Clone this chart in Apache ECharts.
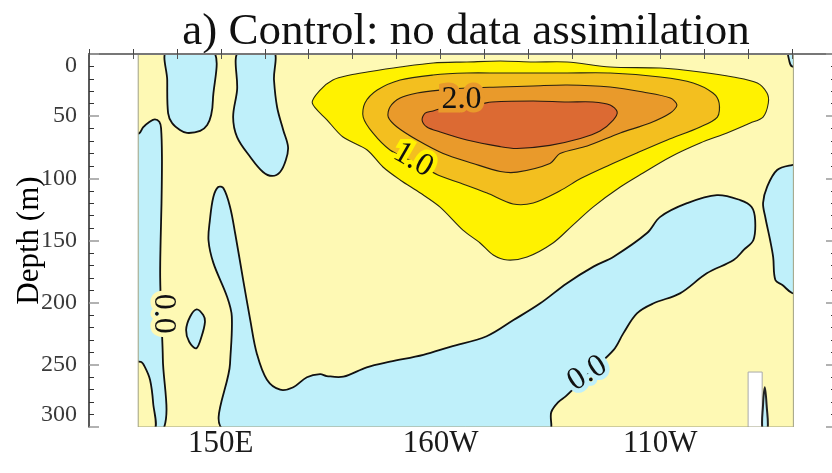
<!DOCTYPE html>
<html><head><meta charset="utf-8">
<script src="https://cdn.jsdelivr.net/npm/echarts@6/dist/echarts.min.js"></script>
<style>html,body{margin:0;padding:0;background:#fff}#c{width:832px;height:473px}</style>
</head><body><div id="c"></div>
<script>
// ---------------- data (longitude in degrees east, depth in m) ----------------
const xTickValues = [150, 200, 250];
const xTickText = ['150E', '160W', '110W'];
const dataDomain = [[131.2,0],[280.3,0],[280.3,300],[131.2,300]];
const landWest = [[118,-5],[131.2,-5],[131.2,305],[118,305]];
const landEast = [[280.3,-5],[292,-5],[292,305],[280.3,305]];
const noDataNotch = [[270,255.8],[273.2,255.8],[273.2,303],[270,303]];

// negative (< 0) regions, bounded by the 0.0 contour
const negA = [[137.8,-3],[137.8,20.9],[138.0,47.5],[138.9,55.5],[140.7,61.1],[142.3,63.5],[145.3,61.9],[146.9,57.1],[147.8,49.1],[148.2,37],[148.2,-3]];
const negB = [[154.1,-3],[153.7,29],[152.8,50.7],[153.7,66.8],[156.7,82.8],[159.6,94.9],[161.7,98.1],[163.5,94.9],[164.8,85.3],[165.3,74.8],[164.2,61.1],[162.8,42.6],[162.1,20.9],[161.9,-3]];
const negC = [[129,64],[131.4,63.8],[132.3,59],[133.8,54.5],[135.0,52.5],[136.0,54.5],[136.4,59.6],[136.6,82.8],[136.5,120],[136.3,150],[136.2,180],[136.5,215],[136.8,244.5],[136.8,303],[129,303]];
const posC = [[129,303],[129,249],[131.8,247.7],[132.7,251.7],[133.9,262.2],[134.6,280.7],[134.8,303]];
const negD = [[144.5,205.4],[146.0,210],[146.4,215.3],[145.6,227.4],[144.4,236.7],[142.8,231.4],[142.1,222],[143,211.3]];
const negE = [[151.3,303],[152.1,249],[152.5,211],[151.4,195],[148.3,168],[147.2,150],[147.5,134],[148.3,115],[149.4,107],[150.6,108],[152.1,123],[153.3,145],[155.1,182],[156.7,214],[158.2,241],[160.5,262],[163.5,270],[166.5,268],[169.6,260],[172.6,257.5],[174.1,259],[177.9,259.5],[183.2,252],[188.5,247.5],[196.1,242],[202.2,235.5],[210.5,227],[216.6,214],[222.7,200.5],[228.7,184.5],[234.8,171],[239.4,163],[247,144],[250,131],[256.1,120],[262.9,113.5],[268.2,117.5],[270.8,123],[271.6,133.5],[271.2,149.6],[269,157.6],[266.7,165.7],[260.6,176.4],[254.5,192.5],[248.5,200.5],[244.7,208.6],[241.6,224.7],[239.4,238],[234,256],[228.6,275],[226.8,280],[225.2,288],[224.5,303]];
const negF = [[282,89.3],[280,89.3],[276.6,93.3],[274.3,107],[273.4,119.8],[273.9,131.1],[275,149.6],[275.7,163.3],[276.2,181.8],[277.8,185.8],[280,192.2],[282,192.2]];
const negG = [[279.2,-3],[279.4,6],[280.0,10],[282,10],[282,-3]];
const negH = [[273.3,303],[273.4,282],[273.8,268],[274.2,282],[274.4,303]];

// positive contours 0.5, 1.0, 1.5, 2.0
const c05 = [[170.8,39.4],[172.6,29],[175.5,20.9],[179.4,16.9],[183.3,14.5],[190.8,10.5],[198.3,7.2],[206,6.4],[213.6,5.6],[221.1,6.4],[228.8,6.4],[238.6,10.5],[250,11.3],[259.1,14.5],[266.6,18.5],[272.1,23.3],[274.3,31.4],[274.6,39.4],[273.4,50.7],[270.5,55.5],[265.2,63.5],[259.1,71.6],[252.3,82.8],[246.1,95.7],[240.9,107],[234.7,123.1],[230,138],[225.6,152],[219.7,163.3],[215.2,165.7],[212,161.7],[209,152],[205.1,141.6],[199.9,123.1],[195.4,111.8],[190.8,101.3],[186.9,90.9],[183.3,77.2],[177.8,66.8],[174.2,53.1]];
const c10 = [[182.4,50.7],[182.8,39.4],[185.6,29],[190.8,20.9],[198.3,16.9],[206,15.3],[213.6,15.3],[221.1,15.3],[228.8,15.3],[238.6,15.3],[250,18.5],[257.5,23.3],[262,31.4],[263.4,39.4],[263,50.7],[259.1,58.7],[251.6,69.2],[244.7,79.6],[238,90],[232,100],[227.2,110],[221.1,119.8],[216.5,120.6],[210.6,111.8],[204.5,103.8],[199.4,97.3],[194,87],[188.5,77.2],[184.6,63.5]];
const c15 = [[188.1,50.7],[188.5,42.6],[190.8,35.4],[194.7,31.4],[199.9,29],[206,27.3],[213.6,26.5],[221.1,25.7],[228.8,24.9],[238.6,26.5],[246.1,30.6],[252.3,35.4],[253.8,41],[252.3,47.5],[247.7,55.5],[240.9,63.5],[233.4,74],[227.2,80],[224.9,88],[217.4,95],[213.6,94.5],[207.4,88],[200.6,80],[194.7,69.2],[190.1,58.7]];
const c20 = [[195.8,53.1],[196.5,47.5],[198.3,45.8],[200.6,43.4],[205,41.5],[209,40.2],[211.7,38.6],[221.1,37.8],[228.8,38.6],[234.7,38.6],[238.6,41],[240.2,46.6],[239.3,53.1],[236.3,62],[231.8,68],[224.9,73.5],[217.4,76],[213.6,74.5],[206,69.2],[199.9,62.7],[196.9,58.7]];

// contour labels
const labelText = ['2.0', '1.0', '0.0', '0.0'];
const labelLon = [204.8, 193.8, 137.0, 233.4];
const labelDepth = [36.6, 85.3, 209.0, 257.0];

// ---------------- styles ----------------
const STYLE = {
  bg:    {fill:'#fef9b4', stroke:null, lw:0, smooth:0},
  neg:   {fill:'#bff0fa', stroke:'#111', lw:1.8, smooth:0.35},
  pos:   {fill:'#fef9b4', stroke:'#111', lw:1.8, smooth:0.35},
  c05:   {fill:'#fff200', stroke:'#2a2a10', lw:1.1, smooth:0.3},
  c10:   {fill:'#f3bf1f', stroke:'#2a2a10', lw:1.1, smooth:0.3},
  c15:   {fill:'#e99a2b', stroke:'#2a2010', lw:1.1, smooth:0.3},
  c20:   {fill:'#dc6a33', stroke:'#2a1a10', lw:1.1, smooth:0.3},
  notch: {fill:'#ffffff', stroke:'#aaaaaa', lw:1, smooth:0},
  dark:  {fill:'#bff0fa', stroke:'#222', lw:2, smooth:0.4},
  land:  {fill:'#ffffff', stroke:null, lw:0, smooth:0},
  edge:  {fill:'none', stroke:'#a0a080', lw:1, smooth:0}
};
const labelRot = [0, -30, -90, 32];
const labelHalo = ['#e99a2b', '#fff200', '#fef9b4', '#bff0fa'];

const layers = [
  ['bg', dataDomain],
  ['neg', negA], ['neg', negB], ['neg', negC], ['pos', posC], ['neg', negD],
  ['neg', negE], ['neg', negF], ['neg', negG],
  ['c05', c05], ['c10', c10], ['c15', c15], ['c20', c20],
  ['notch', noDataNotch], ['dark', negH],
  ['land', landWest], ['land', landEast], ['edge', dataDomain]
];

const serif = '"Liberation Serif", "DejaVu Serif", serif';
const chart = echarts.init(document.getElementById('c'), null, {renderer:'canvas'});

function clipOf(params) {
  const cs = params.coordSys;
  return {type:'rect', shape:{x:cs.x, y:cs.y, width:cs.width, height:cs.height}};
}

const xAxisBase = {
  type:'value', min:120, max:290, interval:10,
  splitLine:{show:false}, z:10
};
const yAxisBase = {
  type:'value', inverse:true, min:0, max:300, interval:50,
  splitLine:{show:false}, z:10,
  minorTick:{show:true, splitNumber:5, length:5, lineStyle:{color:'#333', width:1}},
  minorSplitLine:{show:false}
};

chart.setOption({
  animation:false,
  title:{
    text:'a) Control: no data assimilation', left:461, top:5, textAlign:'center',
    textStyle:{fontFamily:serif, fontSize:45, fontWeight:'normal', color:'#111'}
  },
  grid:{left:89, top:54, width:747, height:373, containLabel:false, outerBoundsMode:'none'},
  xAxis:[
    Object.assign({}, xAxisBase, {
      position:'bottom',
      axisLine:{lineStyle:{color:'#222', width:1.5}},
      axisTick:{inside:true, length:5, lineStyle:{color:'#444'}},
      axisLabel:{
        margin:1, fontFamily:serif, fontSize:31, color:'#1a1a1a',
        formatter:v => { const i = xTickValues.indexOf(v); return i >= 0 ? xTickText[i] : ''; }
      }
    }),
    Object.assign({}, xAxisBase, {
      position:'top',
      axisLine:{lineStyle:{color:'#777', width:2}},
      axisTick:{inside:true, length:5, lineStyle:{color:'#555'}},
      axisLabel:{show:false}
    })
  ],
  yAxis:[
    Object.assign({}, yAxisBase, {
      position:'left',
      name:'Depth (m)', nameLocation:'middle', nameRotate:90, nameGap:44,
      nameMoveOverlap:false,
      nameTextStyle:{fontFamily:serif, fontSize:31, color:'#000'},
      axisLine:{lineStyle:{color:'#222', width:1.5}},
      axisTick:{inside:true, length:10, lineStyle:{color:'#999', width:1.5}},
      axisLabel:{margin:12, fontFamily:serif, fontSize:24, color:'#3a3a3a',
        verticalAlignMinLabel:'top', verticalAlignMaxLabel:'bottom'}
    }),
    Object.assign({}, yAxisBase, {
      position:'right',
      axisLine:{lineStyle:{color:'#777', width:2}},
      axisTick:{inside:true, length:10, lineStyle:{color:'#999', width:1.5}},
      axisLabel:{show:false}
    })
  ],
  series:[
    {
      type:'custom', coordinateSystem:'cartesian2d', xAxisIndex:0, yAxisIndex:0,
      silent:true, z:2,
      data: layers.map((l, i) => [i, 0]),
      renderItem: function (params, api) {
        const layer = layers[params.dataIndex];
        const st = STYLE[layer[0]];
        const pts = layer[1].map(p => api.coord(p));
        return {
          type:'polygon',
          shape:{points:pts, smooth:st.smooth},
          style:{fill:st.fill, stroke:st.stroke, lineWidth:st.lw, lineJoin:'round'},
          clipPath: clipOf(params)
        };
      }
    },
    {
      type:'custom', coordinateSystem:'cartesian2d', xAxisIndex:0, yAxisIndex:0,
      silent:true, z:3,
      data: labelText.map((t, i) => [labelLon[i], labelDepth[i]]),
      renderItem: function (params, api) {
        const i = params.dataIndex;
        const c = api.coord([labelLon[i], labelDepth[i]]);
        return {
          type:'text', x:c[0], y:c[1], rotation: labelRot[i] * Math.PI / 180,
          style:{
            text:labelText[i], font:'32px ' + serif, fill:'#111',
            align:'center', verticalAlign:'middle',
            stroke:labelHalo[i], lineWidth:9, strokeFirst:true
          }
        };
      }
    }
  ]
});
</script>
</body></html>
